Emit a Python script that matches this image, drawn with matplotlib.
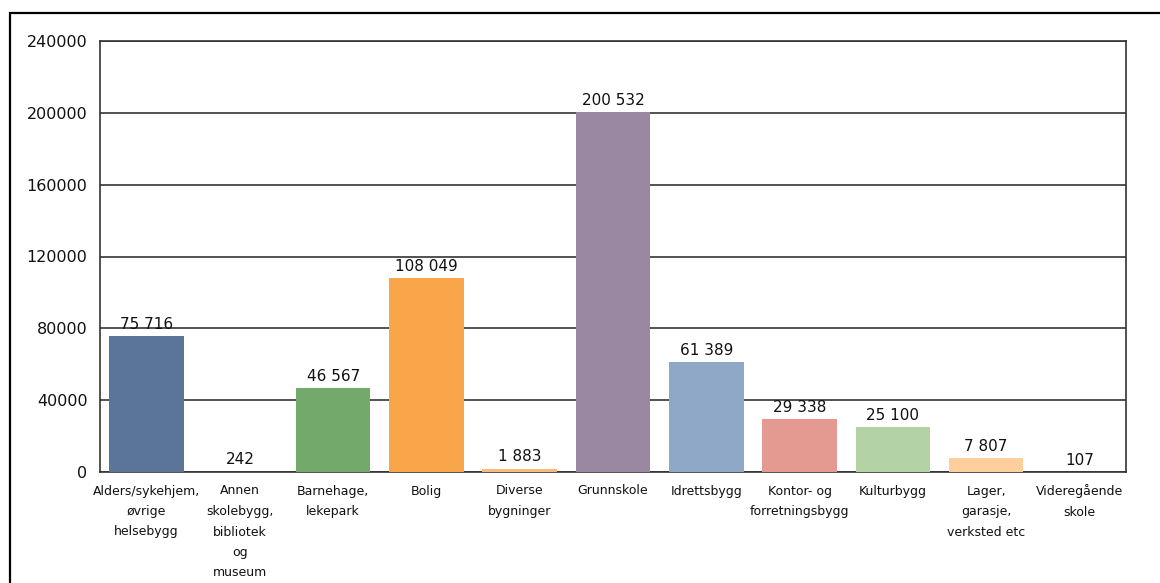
import matplotlib
matplotlib.use("Agg")
import matplotlib.pyplot as plt
from matplotlib.patches import Rectangle

categories = [
    "Alders/sykehjem,\nøvrige\nhelsebygg",
    "Annen\nskolebygg,\nbibliotek\nog\nmuseum",
    "Barnehage,\nlekepark",
    "Bolig",
    "Diverse\nbygninger",
    "Grunnskole",
    "Idrettsbygg",
    "Kontor- og\nforretningsbygg",
    "Kulturbygg",
    "Lager,\ngarasje,\nverksted etc",
    "Videregående\nskole",
]
values = [75716, 242, 46567, 108049, 1883, 200532, 61389, 29338, 25100, 7807, 107]
colors = ["#5b7499", "#a9b9d3", "#73aa6b", "#f9a54a", "#f9bb7c", "#9a88a2",
          "#8fa8c8", "#e49a90", "#b3d2a6", "#fecf9d", "#c9c9c9"]
yticks = [0, 40000, 80000, 120000, 160000, 200000, 240000]


def fmt(v):
    return f"{v:,}".replace(",", " ")


fig = plt.figure(figsize=(11.6, 5.83), dpi=100)
plt.rcParams["font.family"] = ["DejaVu Sans"]

# outer frame
fig.patches.append(Rectangle((10 / 1160, -0.05), 1.2, 1 - 13 / 583 + 0.05,
                             transform=fig.transFigure, fill=False,
                             edgecolor="black", linewidth=1.6))

ax = fig.add_axes([100 / 1160, 1 - 472 / 583, 1026 / 1160, 431 / 583])
x = list(range(len(values)))
bars = ax.bar(x, values, width=0.8, color=colors, zorder=3)

ax.set_xlim(-0.5, len(values) - 0.5)
ax.set_ylim(0, 240000)
ax.set_yticks(yticks)
ax.set_yticklabels([str(t) for t in yticks], fontsize=11.5, color="#111111")
ax.set_xticks(x)
ax.set_xticklabels(categories, fontsize=9, color="#111111", linespacing=1.75)
ax.tick_params(axis="both", length=0)
ax.tick_params(axis="y", pad=9)
ax.tick_params(axis="x", pad=9)
ax.yaxis.grid(True, color="#333333", linewidth=1.2, zorder=1)
for s in ax.spines.values():
    s.set_color("#333333")
    s.set_linewidth(1.2)

for xi, v in zip(x, values):
    ax.annotate(fmt(v), (xi, v), xytext=(0, 3), textcoords="offset points",
                ha="center", va="bottom", fontsize=11, color="#111111", zorder=4)

fig.savefig("out.png", dpi=100, facecolor="white")
